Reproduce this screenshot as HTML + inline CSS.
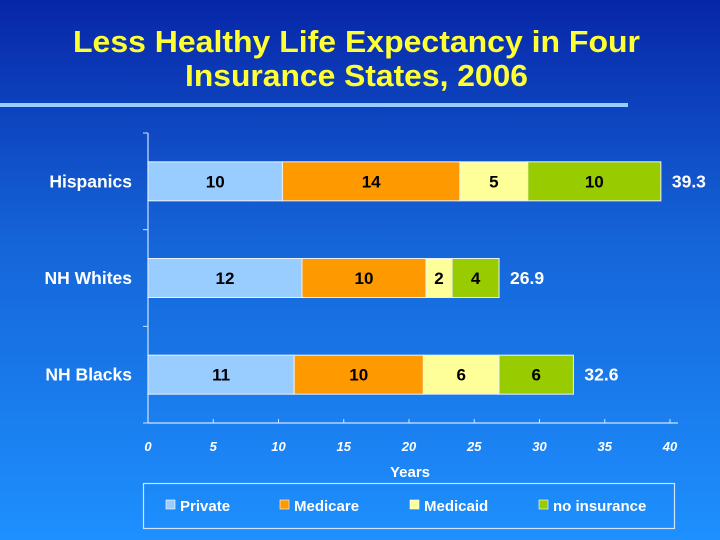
<!DOCTYPE html>
<html><head><meta charset="utf-8"><style>
body{margin:0;width:720px;height:540px;overflow:hidden}
svg{display:block;font-family:"Liberation Sans",sans-serif;font-weight:bold}
</style></head><body>
<svg id="c" width="720" height="540">
<defs><linearGradient id="bg" x1="0" y1="0" x2="0" y2="1"><stop offset="0" stop-color="#0726a8"/><stop offset="0.45" stop-color="#1565d8"/><stop offset="1" stop-color="#1e90ff"/></linearGradient></defs>
<rect width="720" height="540" fill="url(#bg)"/>
<text x="73" y="52" font-size="31" fill="#ffff33" textLength="567" lengthAdjust="spacingAndGlyphs">Less Healthy Life Expectancy in Four</text>
<text x="185" y="86" font-size="31" fill="#ffff33" textLength="343" lengthAdjust="spacingAndGlyphs">Insurance States, 2006</text>
<rect x="0" y="103" width="628" height="4" fill="#99ccff"/>
<g id="plot"></g>
<rect x="143.5" y="483.5" width="531" height="45" fill="none" stroke="#cfe4ff" stroke-width="1.2"/>
<g id="legend"></g>
<text x="410" y="477" text-anchor="middle" font-size="15" fill="#fff">Years</text>
</svg>
<script>
const categories = ["Hispanics","NH Whites","NH Blacks"];
const seriesNames = ["Private","Medicare","Medicaid","no insurance"];
const privateVals = [10.3, 11.8, 11.2];
const medicareVals = [13.6, 9.5, 9.9];
const medicaidVals = [5.2, 2.0, 5.8];
const noInsVals = [10.2, 3.6, 5.7];
const segLabels = [["10","14","5","10"],["12","10","2","4"],["11","10","6","6"]];
const totals = ["39.3","26.9","32.6"];
const xTicks = [0,5,10,15,20,25,30,35,40];
const colors = ["#99ccff","#ff9900","#ffff99","#99cc00"];
const NS="http://www.w3.org/2000/svg";
const x0=148, x1=670, yTop=133, yBot=423;
function xs(v){return x0+(v/40)*(x1-x0);}
const band=(yBot-yTop)/3;
const plot=document.getElementById('plot');
function mk(t,a,p){const e=document.createElementNS(NS,t);for(const k in a)e.setAttribute(k,a[k]);(p||plot).appendChild(e);return e;}
let ax=mk('line',{x1:x0,y1:yTop,x2:x0,y2:yBot,stroke:'#cfe4ff','stroke-width':1.2});


let bx=mk('line',{x1:x0,y1:yBot,x2:x1+8,y2:yBot,stroke:'#cfe4ff','stroke-width':1.2});


for(let i=0;i<=3;i++){const y=yTop+band*i;const t=mk('line',{x1:x0-5,y1:y,x2:x0,y2:y,stroke:'#cfe4ff'});

}
xTicks.forEach(v=>{const t=mk('line',{x1:xs(v),y1:yBot-4,x2:xs(v),y2:yBot,stroke:'#cfe4ff'});


const l=mk('text',{x:xs(v),y:451,'text-anchor':'middle','font-size':13,'font-style':'italic',fill:'#fff'});l.textContent=v;

});
const series=[privateVals,medicareVals,medicaidVals,noInsVals];
categories.forEach((c,i)=>{
 const cy=yTop+band*(i+0.5);
 const h=39;
 const cl=mk('text',{x:132,y:cy+6,'text-anchor':'end','font-size':17.5,fill:'#fff'});cl.textContent=c;
 
 
 let acc=0;
 series.forEach((s,j)=>{
  const r=mk('rect',{x:xs(acc),y:cy-h/2,width:xs(acc+s[i])-xs(acc),height:h,fill:colors[j],stroke:'#e8f2ff','stroke-width':1});
  
  
  const t=mk('text',{x:(xs(acc)+xs(acc+s[i]))/2,y:cy+6,'text-anchor':'middle','font-size':17,fill:'#000'});t.textContent=segLabels[i][j];
  
  
  acc+=s[i];
 });
 const tt=mk('text',{x:xs(acc)+11,y:cy+6,'font-size':17.5,fill:'#fff'});tt.textContent=totals[i];
 
 
});
const lg=document.getElementById('legend');
const lx=[166,280,410,539];
seriesNames.forEach((n,j)=>{
 const r=mk('rect',{x:lx[j],y:500,width:9,height:9,fill:colors[j],stroke:'#fff','stroke-width':0.6},lg);
 
 
 const t=mk('text',{x:lx[j]+14,y:511,'font-size':15,fill:'#fff'},lg);t.textContent=n;
 
 
});
</script>
</body></html>
